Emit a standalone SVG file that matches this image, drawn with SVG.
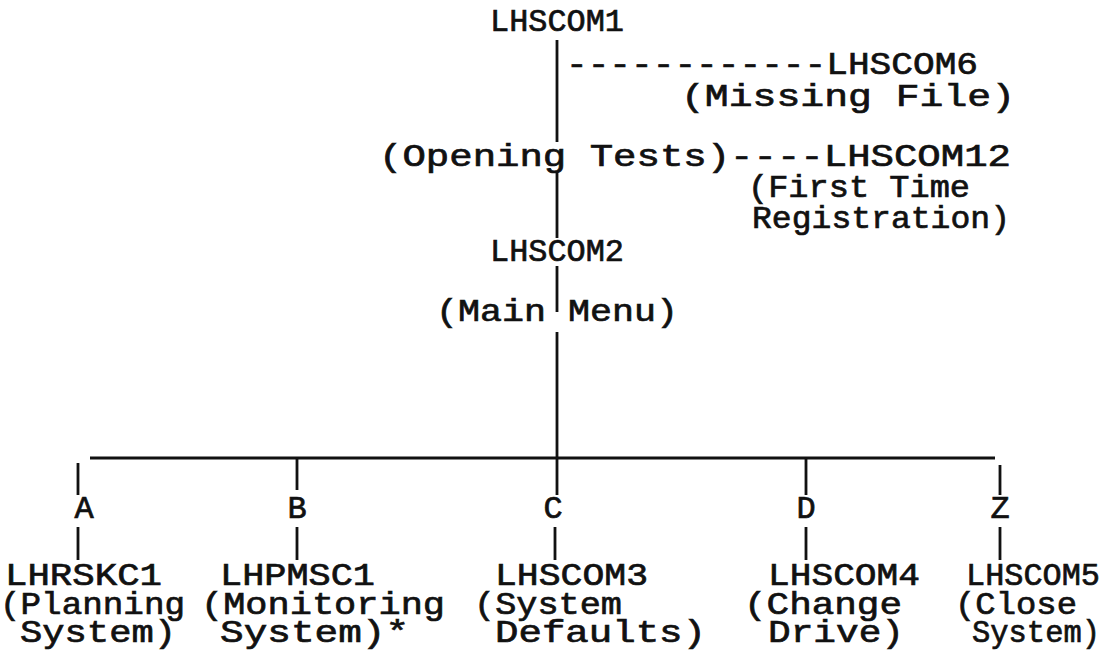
<svg xmlns="http://www.w3.org/2000/svg" width="1106" height="650" viewBox="0 0 1106 650">
<style>
text{font-family:"Liberation Mono","Courier New",monospace;font-size:32px;font-weight:normal;fill:#111;stroke:#111;stroke-width:0.7;}
.m{text-anchor:middle;}
.ln{stroke:#111;stroke-width:2.8;fill:none;stroke-linecap:butt;}
</style>
<rect width="1106" height="650" fill="#fff"/>
<g id="connectors">
<path class="ln" d="M557 40V142M557 172V238M557 266V312M557 332V495"/>
<path class="ln" d="M90 458H995"/>
<path class="ln" d="M78 463V495M297 458V490M806 458V495M1000 465V495"/>
<path class="ln" d="M78 527V560M297 527V560M555 527V560M806 527V560M1000 527V560"/>
</g>
<g id="lhscom1"><text class="m" x="557" y="31" textLength="134" lengthAdjust="spacingAndGlyphs">LHSCOM1</text></g>
<g id="lhscom6"><text x="566" y="74" textLength="412" lengthAdjust="spacingAndGlyphs">------------LHSCOM6</text><text x="681" y="106" textLength="334" lengthAdjust="spacingAndGlyphs">(Missing File)</text></g>
<g id="opening"><text x="379" y="166" textLength="632" lengthAdjust="spacingAndGlyphs">(Opening Tests)----LHSCOM12</text></g>
<g id="lhscom12"><text x="748" y="197" textLength="222" lengthAdjust="spacingAndGlyphs">(First Time</text><text x="752" y="228" textLength="258" lengthAdjust="spacingAndGlyphs">Registration)</text></g>
<g id="lhscom2"><text class="m" x="557" y="261" textLength="134" lengthAdjust="spacingAndGlyphs">LHSCOM2</text><text class="m" x="557" y="321" textLength="242" lengthAdjust="spacingAndGlyphs">(Main Menu)</text></g>
<g id="optA"><text class="m" x="84" y="518">A</text><text x="5" y="585" textLength="157" lengthAdjust="spacingAndGlyphs">LHRSKC1</text><text x="0" y="614" textLength="185" lengthAdjust="spacingAndGlyphs">(Planning</text><text x="20" y="642" textLength="156" lengthAdjust="spacingAndGlyphs">System)</text></g>
<g id="optB"><text class="m" x="297" y="518">B</text><text x="220" y="585" textLength="155" lengthAdjust="spacingAndGlyphs">LHPMSC1</text><text x="201" y="614" textLength="244" lengthAdjust="spacingAndGlyphs">(Monitoring</text><text x="220" y="642" textLength="189" lengthAdjust="spacingAndGlyphs">System)*</text></g>
<g id="optC"><text class="m" x="553" y="518">C</text><text x="495" y="585" textLength="153" lengthAdjust="spacingAndGlyphs">LHSCOM3</text><text x="474" y="614" textLength="148" lengthAdjust="spacingAndGlyphs">(System</text><text x="495" y="642" textLength="211" lengthAdjust="spacingAndGlyphs">Defaults)</text></g>
<g id="optD"><text class="m" x="806" y="518">D</text><text x="768" y="585" textLength="152" lengthAdjust="spacingAndGlyphs">LHSCOM4</text><text x="744" y="614" textLength="158" lengthAdjust="spacingAndGlyphs">(Change</text><text x="768" y="642" textLength="136" lengthAdjust="spacingAndGlyphs">Drive)</text></g>
<g id="optZ"><text class="m" x="1000" y="518">Z</text><text x="966" y="585" textLength="134" lengthAdjust="spacingAndGlyphs">LHSCOM5</text><text x="955" y="614" textLength="122" lengthAdjust="spacingAndGlyphs">(Close</text><text x="972" y="642" textLength="128" lengthAdjust="spacingAndGlyphs">System)</text></g>
</svg>
